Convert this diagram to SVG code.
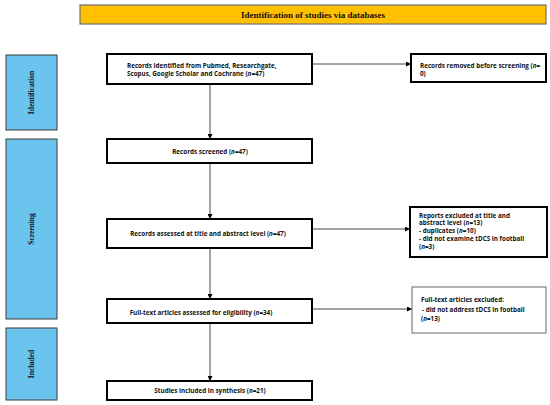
<svg xmlns="http://www.w3.org/2000/svg" width="550" height="405" viewBox="0 0 550 405">
<style>
.side{fill:#6BC4EE;stroke:#3a3a3a;stroke-width:1}
.hdr{fill:#FFC000;stroke:#707070;stroke-width:1.2}
.box{fill:#fff;stroke:#000;stroke-width:2}
.thin{fill:#fff;stroke:#666;stroke-width:1}
.t{font-family:"Open Sans","Liberation Sans",sans-serif;font-weight:bold;font-size:6.3px;fill:#111}
.s{font-family:"Liberation Serif",serif;font-weight:bold;font-size:7.5px;fill:#111}
.h{font-family:"Liberation Serif",serif;font-weight:bold;font-size:9px;fill:#111}
.c{stroke:#333;stroke-width:0.9;fill:none;marker-end:url(#ah)}
</style>
<defs>
<marker id="ah" viewBox="0 0 6 6" refX="6" refY="3" markerWidth="5" markerHeight="5" markerUnits="userSpaceOnUse" orient="auto">
<path d="M0,0 L6,3 L0,6 Z" fill="#000"/>
</marker>
</defs>
<rect width="550" height="405" fill="#fff"/>
<g id="header">
<rect class="hdr" x="80" y="5" width="466" height="19"/>
<text class="h" x="313" y="17.5" text-anchor="middle">Identification of studies via databases</text>
</g>
<g id="stage-identification">
<rect class="side" x="6" y="55" width="51" height="75"/>
<text class="s" transform="translate(34,92.5) rotate(-90)" text-anchor="middle">Identification</text>
</g>
<g id="stage-screening">
<rect class="side" x="6" y="139" width="51" height="180"/>
<text class="s" transform="translate(34,229) rotate(-90)" text-anchor="middle">Screening</text>
</g>
<g id="stage-included">
<rect class="side" x="6" y="328" width="51" height="72"/>
<text class="s" transform="translate(34,364) rotate(-90)" text-anchor="middle">Included</text>
</g>
<g id="connectors">
<line class="c" x1="210" y1="84" x2="210" y2="139"/>
<line class="c" x1="210" y1="163" x2="210" y2="219"/>
<line class="c" x1="210" y1="248" x2="210" y2="299"/>
<line class="c" x1="210" y1="323" x2="210" y2="381"/>
<line class="c" x1="312" y1="64" x2="411" y2="64"/>
<line class="c" x1="312" y1="229" x2="410" y2="229"/>
<line class="c" x1="312" y1="309" x2="412" y2="309"/>
</g>
<g id="records-identified">
<rect class="box" x="107" y="54" width="205" height="30"/>
<text class="t" x="127" y="68">Records identified from Pubmed, Researchgate,</text>
<text class="t" x="127" y="75.5">Scopus, Google Scholar and Cochrane (<tspan font-style="italic">n</tspan>=47)</text>
</g>
<g id="records-removed">
<rect class="box" x="411" y="54" width="135" height="28"/>
<text class="t" x="420" y="68">Records removed before screening (<tspan font-style="italic">n</tspan>=</text>
<text class="t" x="420" y="75.5">0)</text>
</g>
<g id="records-screened">
<rect class="box" x="107" y="139" width="205" height="24"/>
<text class="t" x="210" y="153.5" text-anchor="middle">Records screened (<tspan font-style="italic">n</tspan>=47)</text>
</g>
<g id="records-assessed">
<rect class="box" x="107" y="219" width="205" height="29"/>
<text class="t" x="208" y="236" text-anchor="middle">Records assessed at title and abstract level (<tspan font-style="italic">n</tspan>=47)</text>
</g>
<g id="reports-excluded">
<rect class="box" x="410" y="207" width="137" height="50"/>
<text class="t" x="419" y="217.5">Reports excluded at title and</text>
<text class="t" x="419" y="225">abstract level (<tspan font-style="italic">n</tspan>=13)</text>
<text class="t" x="419" y="233">- duplicates (<tspan font-style="italic">n</tspan>=10)</text>
<text class="t" x="419" y="240.5">- did not examine tDCS in football</text>
<text class="t" x="419" y="248.5">(<tspan font-style="italic">n</tspan>=3)</text>
</g>
<g id="fulltext-assessed">
<rect class="box" x="107" y="299" width="205" height="24"/>
<text class="t" x="201" y="314.5" text-anchor="middle">Full-text articles assessed for eligibility (<tspan font-style="italic">n</tspan>=34)</text>
</g>
<g id="fulltext-excluded">
<rect class="thin" x="412" y="287" width="134" height="46"/>
<text class="t" x="421" y="301.5">Full-text articles excluded:</text>
<text class="t" x="422" y="312">- did not address tDCS in football</text>
<text class="t" x="421" y="320.5">(<tspan font-style="italic">n</tspan>=13)</text>
</g>
<g id="studies-included">
<rect class="box" x="107" y="381" width="205" height="19"/>
<text class="t" x="210" y="393" text-anchor="middle">Studies included in synthesis (<tspan font-style="italic">n</tspan>=21)</text>
</g>
</svg>
